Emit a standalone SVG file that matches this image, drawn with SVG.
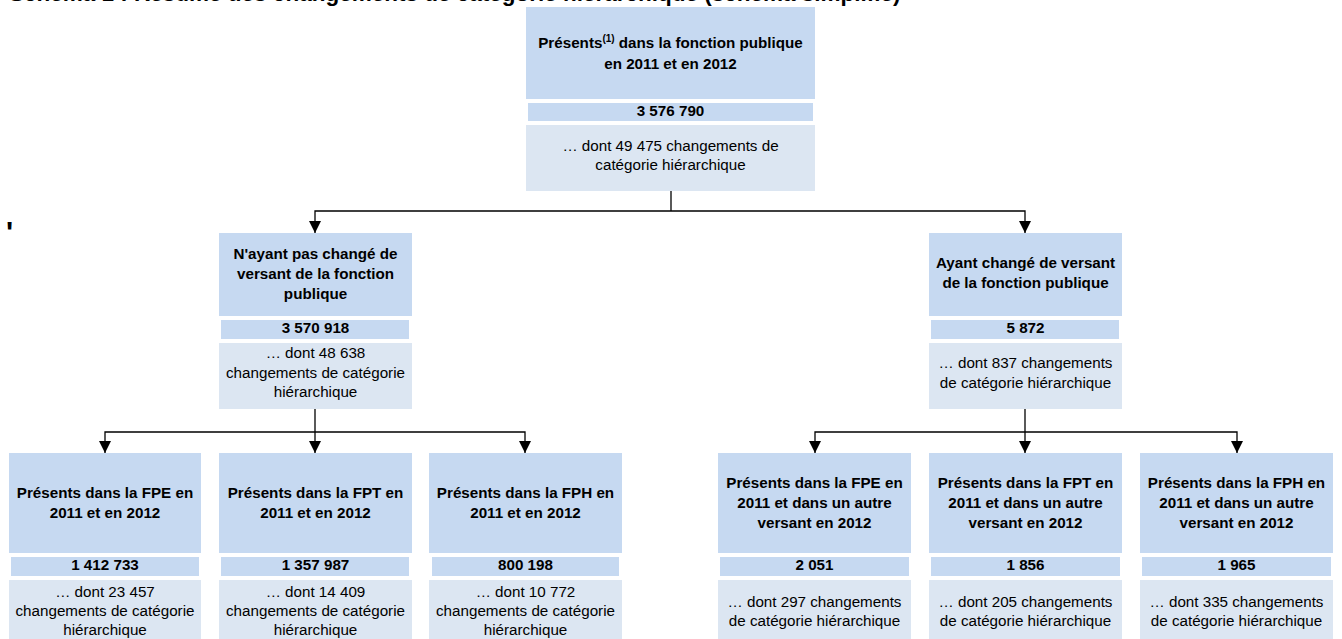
<svg xmlns="http://www.w3.org/2000/svg" width="1342" height="639" viewBox="0 0 1342 639">
<defs>
<style>
.t{fill:#c6d9f1}
.n{fill:#c6d9f1}
.d{fill:#dce6f2}
text{font-family:"Liberation Sans",Arial,sans-serif;font-size:15.2px;fill:#000;text-anchor:middle}
.b{font-weight:bold}
.c{fill:none;stroke:#000;stroke-width:1.3}
</style>
<marker id="ah" markerUnits="userSpaceOnUse" markerWidth="12" markerHeight="12" refX="12" refY="6" orient="auto">
<path d="M0,0 L12,6 L0,12 z" fill="#000"/>
</marker>
</defs>
<rect width="1342" height="639" fill="#fff"/>
<text class="b" x="9" y="0.5" style="text-anchor:start;font-size:22.5px">Schéma 1 : Résumé des changements de catégorie hiérarchique (schéma simplifié)</text>
<text class="b" x="6" y="242" style="text-anchor:start;font-size:30px">'</text>

<g id="connectors">
<path class="c" d="M671 191 V211"/>
<path class="c" d="M671 211 H315 V233" marker-end="url(#ah)"/>
<path class="c" d="M671 211 H1025 V233" marker-end="url(#ah)"/>
<path class="c" d="M315 409 V453" marker-end="url(#ah)"/>
<path class="c" d="M315 432 H105 V453" marker-end="url(#ah)"/>
<path class="c" d="M315 432 H525 V453" marker-end="url(#ah)"/>
<path class="c" d="M1025 409 V453" marker-end="url(#ah)"/>
<path class="c" d="M1025 432 H815 V453" marker-end="url(#ah)"/>
<path class="c" d="M1025 432 H1237 V453" marker-end="url(#ah)"/>
</g>

<g id="node-total">
<rect class="t" x="526" y="7" width="289" height="92"/>
<text class="b" x="670.5" y="48">Présents<tspan dy="-6" style="font-size:10px">(1)</tspan><tspan dy="6"> dans la fonction publique</tspan></text>
<text class="b" x="670.5" y="69">en 2011 et en 2012</text>
<rect class="n" x="528" y="103" width="285" height="18"/>
<text class="b" x="670.5" y="116">3 576 790</text>
<rect class="d" x="526" y="125" width="289" height="66"/>
<text x="670.5" y="151">… dont 49 475 changements de</text>
<text x="670.5" y="170">catégorie hiérarchique</text>
</g>

<g id="node-meme-versant">
<rect class="t" x="219" y="233" width="193" height="83"/>
<text class="b" x="315.5" y="259">N'ayant pas changé de</text>
<text class="b" x="315.5" y="279">versant de la fonction</text>
<text class="b" x="315.5" y="299">publique</text>
<rect class="n" x="221" y="320" width="188" height="19"/>
<text class="b" x="315.5" y="333">3 570 918</text>
<rect class="d" x="219" y="343" width="193" height="66"/>
<text x="315.5" y="358">… dont 48 638</text>
<text x="315.5" y="377.5">changements de catégorie</text>
<text x="315.5" y="397">hiérarchique</text>
</g>

<g id="node-autre-versant">
<rect class="t" x="929" y="233" width="193" height="83"/>
<text class="b" x="1025.5" y="268">Ayant changé de versant</text>
<text class="b" x="1025.5" y="288">de la fonction publique</text>
<rect class="n" x="931" y="320" width="188" height="19"/>
<text class="b" x="1025.5" y="333">5 872</text>
<rect class="d" x="929" y="343" width="193" height="66"/>
<text x="1025.5" y="368">… dont 837 changements</text>
<text x="1025.5" y="388">de catégorie hiérarchique</text>
</g>

<g id="node-fpe">
<rect class="t" x="9" y="453" width="192" height="100"/>
<text class="b" x="105" y="498">Présents dans la FPE en</text>
<text class="b" x="105" y="518">2011 et en 2012</text>
<rect class="n" x="11" y="557" width="188" height="19"/>
<text class="b" x="105" y="570">1 412 733</text>
<rect class="d" x="9" y="580" width="192" height="59"/>
<text x="105" y="597">… dont 23 457</text>
<text x="105" y="616">changements de catégorie</text>
<text x="105" y="635">hiérarchique</text>
</g>

<g id="node-fpt">
<rect class="t" x="219" y="453" width="193" height="100"/>
<text class="b" x="315.5" y="498">Présents dans la FPT en</text>
<text class="b" x="315.5" y="518">2011 et en 2012</text>
<rect class="n" x="221" y="557" width="188" height="19"/>
<text class="b" x="315.5" y="570">1 357 987</text>
<rect class="d" x="219" y="580" width="193" height="59"/>
<text x="315.5" y="597">… dont 14 409</text>
<text x="315.5" y="616">changements de catégorie</text>
<text x="315.5" y="635">hiérarchique</text>
</g>

<g id="node-fph">
<rect class="t" x="429" y="453" width="193" height="100"/>
<text class="b" x="525.5" y="498">Présents dans la FPH en</text>
<text class="b" x="525.5" y="518">2011 et en 2012</text>
<rect class="n" x="432" y="557" width="187" height="19"/>
<text class="b" x="525.5" y="570">800 198</text>
<rect class="d" x="429" y="580" width="193" height="59"/>
<text x="525.5" y="597">… dont 10 772</text>
<text x="525.5" y="616">changements de catégorie</text>
<text x="525.5" y="635">hiérarchique</text>
</g>

<g id="node-fpe-autre">
<rect class="t" x="718" y="453" width="193" height="100"/>
<text class="b" x="814.5" y="488">Présents dans la FPE en</text>
<text class="b" x="814.5" y="508">2011 et dans un autre</text>
<text class="b" x="814.5" y="528">versant en 2012</text>
<rect class="n" x="720" y="557" width="189" height="19"/>
<text class="b" x="814.5" y="570">2 051</text>
<rect class="d" x="718" y="580" width="193" height="59"/>
<text x="814.5" y="607">… dont 297 changements</text>
<text x="814.5" y="626">de catégorie hiérarchique</text>
</g>

<g id="node-fpt-autre">
<rect class="t" x="929" y="453" width="193" height="100"/>
<text class="b" x="1025.5" y="488">Présents dans la FPT en</text>
<text class="b" x="1025.5" y="508">2011 et dans un autre</text>
<text class="b" x="1025.5" y="528">versant en 2012</text>
<rect class="n" x="931" y="557" width="189" height="19"/>
<text class="b" x="1025.5" y="570">1 856</text>
<rect class="d" x="929" y="580" width="193" height="59"/>
<text x="1025.5" y="607">… dont 205 changements</text>
<text x="1025.5" y="626">de catégorie hiérarchique</text>
</g>

<g id="node-fph-autre">
<rect class="t" x="1140" y="453" width="193" height="100"/>
<text class="b" x="1236.5" y="488">Présents dans la FPH en</text>
<text class="b" x="1236.5" y="508">2011 et dans un autre</text>
<text class="b" x="1236.5" y="528">versant en 2012</text>
<rect class="n" x="1142" y="557" width="189" height="19"/>
<text class="b" x="1236.5" y="570">1 965</text>
<rect class="d" x="1140" y="580" width="193" height="59"/>
<text x="1236.5" y="607">… dont 335 changements</text>
<text x="1236.5" y="626">de catégorie hiérarchique</text>
</g>
</svg>
